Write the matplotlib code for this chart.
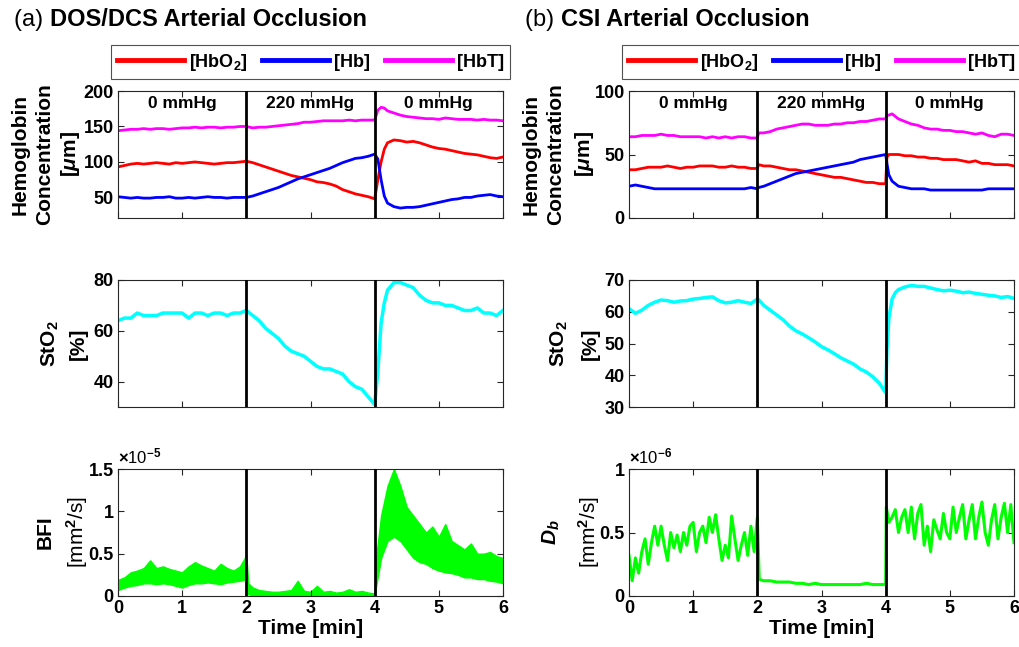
import numpy as np
import matplotlib
matplotlib.use("Agg")
import matplotlib.pyplot as plt
from matplotlib.ticker import FuncFormatter

plt.rcParams['font.family'] = ['Liberation Sans', 'DejaVu Sans']
plt.rcParams['font.weight'] = 'bold'
plt.rcParams['mathtext.fontset'] = 'custom'
plt.rcParams['mathtext.rm'] = 'Liberation Sans'
plt.rcParams['mathtext.it'] = 'Liberation Sans:italic:bold'
plt.rcParams['mathtext.bf'] = 'Liberation Sans:bold'

# ---- data ----
phase_bounds = [2, 4]
phase_labels = ['0 mmHg', '220 mmHg', '0 mmHg']
phase_centers = [1, 3, 5]

# time grids (min)
t_dos = np.round(np.concatenate([np.arange(0, 4.01, 0.1), [4.05, 4.1, 4.15, 4.2],
                                 np.arange(4.3, 6.01, 0.1)]), 3)
t_csi = np.round(np.concatenate([np.arange(0, 2.01, 0.1), [2.02], np.arange(2.1, 4.01, 0.1),
                                 [4.02, 4.05, 4.1, 4.15, 4.2], np.arange(4.3, 6.01, 0.1)]), 3)
t_bfi = np.round(np.concatenate([np.arange(0, 2.01, 0.1), [2.03], np.arange(2.1, 4.01, 0.1),
                                 [4.03], np.arange(4.1, 6.01, 0.1)]), 3)
t_db = np.round(np.concatenate([np.arange(0, 2.01, 0.05), [2.03], np.arange(2.1, 4.01, 0.1),
                                [4.01], np.arange(4.05, 6.01, 0.05)]), 3)

# (a) DOS/DCS hemoglobin [uM]
dos_hbo2 = [93, 95, 97, 98, 97, 98, 99, 98, 97, 99, 98, 99, 100, 99, 98, 97, 98, 99, 99, 100, 101,
            99, 96, 93, 90, 87, 84, 81, 79, 77, 75, 72, 71, 69, 66, 61, 58, 55, 53, 51,
            48, 75, 100, 118, 127,
            131, 130, 128, 129, 127, 124, 121, 119, 118, 116, 114, 112, 111, 110, 108, 106, 105, 107]
dos_hb = [51, 50, 49, 50, 49, 49, 50, 50, 51, 49, 49, 50, 49, 50, 51, 50, 50, 49, 50, 50, 50,
          52, 55, 58, 61, 64, 68, 72, 76, 79, 82, 85, 88, 91, 95, 99, 102, 105, 106, 108,
          111, 104, 75, 52, 42,
          37, 35, 36, 36, 37, 39, 41, 43, 45, 47, 48, 50, 50, 52, 53, 54, 52, 51]
dos_hbt = [144, 145, 146, 146, 147, 146, 147, 147, 146, 147, 148, 148, 149, 148, 149, 149, 148, 149, 149, 150, 150,
           148, 149, 149, 150, 151, 152, 153, 154, 156, 156, 157, 158, 158, 158, 158, 159, 158, 159, 159,
           159, 173, 177, 176, 172,
           169, 166, 164, 163, 162, 161, 161, 160, 162, 161, 160, 160, 160, 159, 160, 159, 159, 158]
dos_sto2 = [64, 65, 65, 67, 66, 66, 66, 67, 67, 67, 67, 65, 67, 67, 66, 67, 67, 66, 67, 67, 68,
            66, 64, 61, 59, 57, 54, 52, 51, 50, 48, 46, 45, 45, 44, 43, 40, 38, 37, 34,
            31, 44, 63, 71, 76,
            79, 79, 78, 77, 74, 72, 71, 71, 70, 70, 69, 68, 68, 69, 67, 67, 66, 68]
# BFI in units of 1e-5 mm^2/s, lower / upper edge of the noisy trace
bfi_scale = -5
bfi_lo = [0.07, 0.10, 0.12, 0.13, 0.15, 0.15, 0.14, 0.15, 0.14, 0.12, 0.10, 0.13, 0.15, 0.15, 0.16, 0.15, 0.14,
          0.16, 0.17, 0.18, 0.20,
          0.02,
          0.01, 0.0, 0.0, 0.0, 0.0, 0.0, 0.0, 0.0, 0.0, 0.0,
          0.0, 0.0, 0.0, 0.0, 0.0, 0.0, 0.0, 0.0, 0.0, 0.0,
          0.15,
          0.45, 0.65, 0.70, 0.65, 0.55, 0.45, 0.40, 0.38, 0.33, 0.30, 0.28, 0.27, 0.25, 0.22, 0.22, 0.20, 0.20,
          0.18, 0.17, 0.15]
bfi_hi = [0.19, 0.22, 0.28, 0.30, 0.33, 0.42, 0.33, 0.35, 0.32, 0.30, 0.28, 0.35, 0.40, 0.36, 0.33, 0.30, 0.38,
          0.33, 0.30, 0.35, 0.48,
          0.15,
          0.10, 0.07, 0.06, 0.05, 0.05, 0.06, 0.07, 0.18, 0.06, 0.05,
          0.12, 0.05, 0.06, 0.04, 0.05, 0.08, 0.05, 0.06, 0.04, 0.03,
          0.50,
          0.95, 1.30, 1.50, 1.30, 1.05, 0.95, 0.85, 0.75, 0.82, 0.70, 0.85, 0.65, 0.60, 0.55, 0.62, 0.50, 0.50,
          0.52, 0.47, 0.45]

# (b) CSI hemoglobin [uM]
csi_hbo2 = [38, 38, 39, 40, 40, 40, 41, 40, 39, 40, 40, 41, 41, 41, 40, 40, 41, 40, 40, 39, 39,
            42,
            41, 41, 40, 39, 38, 38, 37, 36, 35, 34, 33, 32, 32, 31, 30, 29, 28, 28, 27, 27,
            48, 50, 50, 50, 50,
            49, 49, 48, 48, 47, 47, 46, 46, 46, 45, 44, 45, 43, 43, 42, 42, 42, 41]
csi_hb = [25, 26, 25, 24, 23, 23, 23, 23, 23, 23, 23, 23, 23, 23, 23, 23, 23, 23, 23, 24, 23,
          24,
          25, 27, 29, 31, 33, 35, 36, 37, 38, 39, 40, 41, 42, 43, 44, 46, 47, 48, 49, 50,
          43, 34, 29, 27, 25,
          24, 23, 23, 23, 22, 22, 22, 22, 22, 22, 22, 22, 22, 23, 23, 23, 23, 23]
csi_hbt = [64, 64, 65, 65, 65, 66, 65, 65, 64, 64, 64, 64, 63, 64, 63, 64, 63, 64, 64, 63, 63,
           67,
           67, 68, 70, 71, 72, 73, 74, 74, 73, 73, 73, 74, 74, 75, 75, 76, 76, 77, 78, 78,
           81, 81, 82, 80, 78,
           76, 74, 73, 71, 70, 70, 69, 69, 68, 68, 67, 66, 67, 65, 64, 66, 66, 65]
csi_sto2 = [61, 59.5, 60.5, 62, 63, 63.7, 63.5, 63, 63.4, 63.5, 64, 64.2, 64.5, 64.7, 63.5, 62.8, 63, 63.5,
            63, 62.6, 64,
            63.8,
            62, 60.5, 59, 57.5, 55.5, 54, 53, 51.8, 50.5, 49, 48, 46.8, 45.5, 44.5, 43.5, 42, 41, 39.5,
            37.5, 34.5,
            48, 58, 64, 66, 67,
            67.8, 68.3, 68, 68, 67.5, 67, 66.6, 66.8, 66.5, 66, 66.2, 65.8, 65.5, 65.2, 65, 64.5, 64.8, 64.2]
# Db in units of 1e-6 mm^2/s
db_scale = -6
csi_db = [0.32, 0.12, 0.30, 0.18, 0.35, 0.45, 0.25, 0.42, 0.55, 0.40, 0.55, 0.40, 0.28, 0.50, 0.38, 0.48,
          0.35, 0.50, 0.40, 0.55, 0.58, 0.35, 0.50, 0.55, 0.42, 0.62, 0.50, 0.64, 0.45, 0.28, 0.40, 0.30,
          0.63, 0.45, 0.28, 0.40, 0.50, 0.32, 0.55, 0.35, 0.62,
          0.13,
          0.12, 0.12, 0.11, 0.11, 0.11, 0.10, 0.10, 0.09, 0.10, 0.09, 0.09, 0.09, 0.09, 0.09, 0.09, 0.09,
          0.10, 0.09, 0.09, 0.09,
          0.70,
          0.58, 0.62, 0.68, 0.50, 0.62, 0.68, 0.50, 0.70, 0.45, 0.65, 0.72, 0.40, 0.55, 0.35, 0.60, 0.52,
          0.45, 0.65, 0.50, 0.45, 0.70, 0.50, 0.62, 0.72, 0.45, 0.60, 0.72, 0.45, 0.62, 0.74, 0.50, 0.40,
          0.60, 0.72, 0.45, 0.62, 0.73, 0.50, 0.72, 0.42]

# ---- figure ----
W, H = 1019, 647
fig = plt.figure(figsize=(W / 100, H / 100), dpi=100)

col_x = [118, 629]
ax_w = 385
row_top = [91, 280, 469]
ax_h = 127


def make_ax(col, row):
    return fig.add_axes([col_x[col] / W, 1 - (row_top[row] + ax_h) / H, ax_w / W, ax_h / H])


def style(ax, ylim, yticks, bottom):
    ax.set_xlim(0, 6)
    ax.set_ylim(*ylim)
    ax.set_xticks(range(7))
    ax.set_yticks(yticks)
    ax.yaxis.set_major_formatter(FuncFormatter(lambda v, p: '%g' % v))
    ax.tick_params(direction='in', top=True, right=True, length=4, width=0.8,
                   labelsize=13, color='#262626', pad=3)
    if bottom:
        ax.set_xlabel('Time [min]', fontsize=15, fontweight='bold', labelpad=1)
    else:
        ax.set_xticklabels([])
    for s in ax.spines.values():
        s.set_color('#262626')
        s.set_linewidth(0.8)
    for b in phase_bounds:
        ax.axvline(b, color='k', lw=2, zorder=5)


def ylab(x, row, txt, **kw):
    yc = row_top[row] + ax_h / 2
    fig.text(x / W, 1 - yc / H, txt, rotation=90, ha='center', va='center', fontsize=15, **kw)


panels = [
    (0, dos_hbo2, dos_hb, dos_hbt, t_dos, (21, 200), [50, 100, 150, 200]),
    (1, csi_hbo2, csi_hb, csi_hbt, t_csi, (0, 100), [0, 50, 100]),
]
for col, hbo2, hb, hbt, t, yl, yt in panels:
    ax = make_ax(col, 0)
    l1, = ax.plot(t, hbo2, color='red', lw=2, label='[HbO$_\\mathbf{2}$]')
    l2, = ax.plot(t, hb, color='blue', lw=2, label='[Hb]')
    l3, = ax.plot(t, hbt, color='magenta', lw=2, label='[HbT]')
    style(ax, yl, yt, False)
    for xc, lab in zip(phase_centers, phase_labels):
        ax.text(xc, yl[0] + 0.9 * (yl[1] - yl[0]), lab, ha='center', va='center',
                fontsize=12.5, fontweight='bold')
    leg = ax.legend(handles=[l1, l2, l3], ncol=3, loc='center', bbox_to_anchor=(0.5, 1.228),
                    frameon=True, fancybox=False, edgecolor='#262626', handlelength=3.7,
                    handletextpad=0.3, columnspacing=0.8, borderpad=0.35,
                    prop={'weight': 'bold', 'size': 13})
    leg.get_frame().set_linewidth(0.8)
    for ln in leg.get_lines():
        ln.set_linewidth(3.5)

# StO2
ax = make_ax(0, 1)
ax.plot(t_dos, dos_sto2, color='cyan', lw=2.5)
style(ax, (30, 80), [40, 60, 80], False)
ax = make_ax(1, 1)
ax.plot(t_csi, csi_sto2, color='cyan', lw=2.5)
style(ax, (30, 70), [30, 40, 50, 60, 70], False)

# flow
ax = make_ax(0, 2)
ax.fill_between(t_bfi, bfi_lo, bfi_hi, color='#00ff00', lw=1, edgecolor='#00ff00')
style(ax, (0, 1.5), [0, 0.5, 1, 1.5], True)
ax.text(0.0, 1.02, '$\\times$10$^{%d}$' % bfi_scale, transform=ax.transAxes, fontsize=12,
        va='bottom', fontweight='normal')
ax = make_ax(1, 2)
ax.plot(t_db, csi_db, color='#00ff00', lw=2.2)
style(ax, (0, 1), [0, 0.5, 1], True)
ax.text(0.0, 1.02, '$\\times$10$^{%d}$' % db_scale, transform=ax.transAxes, fontsize=12,
        va='bottom', fontweight='normal')

# y labels
ylab(20, 0, 'Hemoglobin')
ylab(45, 0, 'Concentration')
ylab(70, 0, '[$\\mu$m]')
ylab(50, 1, 'StO$_2$')
ylab(78, 1, '[%]')
ylab(45, 2, 'BFI')
ylab(77, 2, '[mm$^2$/s]', fontweight='normal')

ylab(531, 0, 'Hemoglobin')
ylab(556, 0, 'Concentration')
ylab(584, 0, '[$\\mu$m]')
ylab(559, 1, 'StO$_2$')
ylab(590, 1, '[%]')
ylab(551, 2, 'D$_b$', fontstyle='italic')
ylab(589, 2, '[mm$^2$/s]', fontweight='normal')

# titles
for x0, tag, name in [(14, '(a)', 'DOS/DCS Arterial Occlusion'), (525, '(b)', 'CSI Arterial Occlusion')]:
    t1 = fig.text(x0 / W, 1 - 20 / H, tag + ' ', fontsize=17, va='center', ha='left',
                  fontweight='normal')
    fig.canvas.draw()
    bb = t1.get_window_extent()
    fig.text(bb.x1 / W, 1 - 20 / H, name, fontsize=17, fontweight='bold', va='center', ha='left')

fig.savefig('out.png', dpi=100)
